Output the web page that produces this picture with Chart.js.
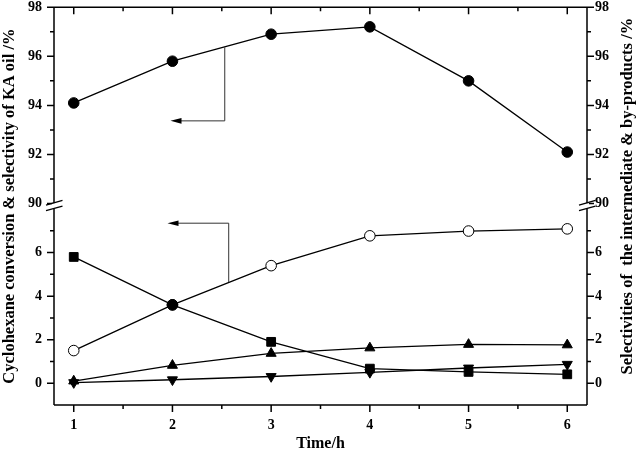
<!DOCTYPE html>
<html>
<head>
<meta charset="utf-8">
<script src="https://cdn.jsdelivr.net/npm/chart.js@4.4.1/dist/chart.umd.min.js"></script>
<style>
  html, body { margin: 0; padding: 0; background: #fff; }
  #wrap { width: 638px; height: 455px; }
</style>
</head>
<body>
<div id="wrap"><canvas id="c" width="638" height="455"></canvas></div>
<script>
// ---- data ----
const times = [1, 2, 3, 4, 5, 6];
const kaOilSelectivity = [94.1, 95.8, 96.9, 97.2, 95.0, 92.1];   // filled circles (upper axis)
const conversion = [1.5, 3.6, 5.4, 6.77, 6.99, 7.09];              // open circles
const seriesSquare = [5.8, 3.6, 1.9, 0.67, 0.52, 0.41];            // filled squares
const seriesUp = [0.1, 0.82, 1.37, 1.62, 1.78, 1.76];              // up triangles
const seriesDown = [0.03, 0.16, 0.31, 0.5, 0.7, 0.87];             // down triangles

const xTicks = [1, 2, 3, 4, 5, 6];
const xMinorTicks = [1.5, 2.5, 3.5, 4.5, 5.5];
const upperTicks = [90, 92, 94, 96, 98];
const upperMinorTicks = [91, 93, 95, 97];
const lowerTicks = [0, 2, 4, 6];
const lowerMinorTicks = [1, 3, 5, 7];

const xTitle = 'Time/h';
const leftTitle = 'Cyclohexane conversion & selectivity of KA oil /%';
const rightTitle = 'Selectivities of  the intermediate & by-products /%';

// annotation arrows, in data units
const arrowUpper = { axis: 'yUpper', x: 2.53, yFrom: 96.37, yTo: 93.37, xTip: 1.98 };
const arrowLower = { axis: 'yLower', x: 2.57, yFrom: 4.65, yTo: 7.35, xTip: 1.95 };

// ---- chart ----
const FONT = "'Liberation Serif', 'Times New Roman', serif";
Chart.defaults.font.family = FONT;
Chart.defaults.color = '#000';

const pts = arr => times.map((t, i) => ({ x: t, y: arr[i] }));

const baseDs = {
  borderColor: '#000',
  borderWidth: 1.3,
  pointBorderColor: '#000',
  pointBorderWidth: 1,
  fill: false,
  tension: 0
};

const fixTicks = arr => (s) => { s.ticks = arr.map(v => ({ value: v })); };

const hiddenGrid = { display: false, drawTicks: false };
const tickFont = { size: 14, weight: 'bold' };

function yAxis(pos, stack, weight, stackWeight, min, max, ticksArr, padding, width) {
  return {
    type: 'linear', position: pos, stack: stack, weight: weight, stackWeight: stackWeight,
    min: min, max: max,
    afterBuildTicks: fixTicks(ticksArr),
    ticks: { padding: padding, font: tickFont, color: '#000' },
    grid: hiddenGrid, border: { display: false },
    afterFit: s => { s.width = width; s.paddingTop = 0; s.paddingBottom = 0; }
  };
}

const overlay = {
  id: 'overlay',
  afterDatasetsDraw(chart) {
    const { ctx, chartArea: a, scales } = chart;
    const x = scales.x, yU = scales.yUpper, yL = scales.yLower;
    const seg = (x1, y1, x2, y2) => { ctx.moveTo(x1, y1); ctx.lineTo(x2, y2); };
    ctx.save();
    ctx.strokeStyle = '#000';
    ctx.lineWidth = 1.5;
    ctx.beginPath();
    seg(a.left, a.top, a.right, a.top);
    seg(a.left, a.bottom, a.right, a.bottom);
    seg(a.left, a.top, a.left, a.bottom);
    seg(a.right, a.top, a.right, a.bottom);
    xTicks.forEach(v => { const p = x.getPixelForValue(v); seg(p, a.bottom, p, a.bottom + 7); seg(p, a.top, p, a.top + 7); });
    xMinorTicks.forEach(v => { const p = x.getPixelForValue(v); seg(p, a.bottom, p, a.bottom + 4); seg(p, a.top, p, a.top + 4); });
    [[yU, upperTicks, upperMinorTicks], [yL, lowerTicks, lowerMinorTicks]].forEach(([s, maj, mnr]) => {
      maj.forEach(v => { const p = s.getPixelForValue(v); seg(a.left - 7, p, a.left, p); seg(a.right, p, a.right + 7, p); });
      mnr.forEach(v => { const p = s.getPixelForValue(v); seg(a.left - 4, p, a.left, p); seg(a.right, p, a.right + 4, p); });
    });
    ctx.stroke();

    // axis breaks
    const yb = yU.bottom;
    [a.left, a.right].forEach(ax => {
      ctx.fillStyle = '#fff';
      ctx.fillRect(ax - 2, yb - 0.5, 4, 5.5);
      ctx.beginPath();
      seg(ax - 8, yb + 1.5, ax + 8.5, yb - 3.3);
      seg(ax - 8, yb + 7, ax + 8.5, yb + 2.4);
      ctx.lineWidth = 1.3;
      ctx.stroke();
    });

    // arrows
    [arrowUpper, arrowLower].forEach(ar => {
      const s = scales[ar.axis];
      const px = x.getPixelForValue(ar.x);
      const p0 = s.getPixelForValue(ar.yFrom);
      const p1 = s.getPixelForValue(ar.yTo);
      const pt = x.getPixelForValue(ar.xTip);
      ctx.strokeStyle = '#333';
      ctx.lineWidth = 1;
      ctx.beginPath();
      ctx.moveTo(px, p0); ctx.lineTo(px, p1); ctx.lineTo(pt + 8, p1);
      ctx.stroke();
      ctx.fillStyle = '#000';
      ctx.beginPath();
      ctx.moveTo(pt, p1); ctx.lineTo(pt + 11, p1 - 2.8); ctx.lineTo(pt + 11, p1 + 2.8); ctx.closePath();
      ctx.fill();
    });

    // right title (reads bottom to top)
    ctx.fillStyle = '#000';
    ctx.font = 'bold 16.5px ' + FONT;
    ctx.textAlign = 'center';
    ctx.textBaseline = 'middle';
    ctx.translate(628, (a.top + a.bottom) / 2 - 10);
    ctx.rotate(-Math.PI / 2);
    ctx.fillText(rightTitle, 0, 0);
    ctx.restore();
  }
};

// datasets listed top-most first (Chart.js draws index 0 last)
new Chart(document.getElementById('c'), {
  type: 'line',
  data: {
    datasets: [
      Object.assign({}, baseDs, { label: 'KA oil', data: pts(kaOilSelectivity), yAxisID: 'yUpper', pointStyle: 'circle', pointRadius: 5.3, pointBackgroundColor: '#000' }),
      Object.assign({}, baseDs, { label: 'square', data: pts(seriesSquare), yAxisID: 'yLower', pointStyle: ['rect', 'circle', 'rect', 'rect', 'rect', 'rect'], pointRadius: [6.2, 5.3, 6.2, 6.2, 6.2, 6.2], pointBackgroundColor: '#000' }),
      Object.assign({}, baseDs, { label: 'conversion', data: pts(conversion), yAxisID: 'yLower', pointStyle: 'circle', pointRadius: 5.3, pointBackgroundColor: '#fff' }),
      Object.assign({}, baseDs, { label: 'up', data: pts(seriesUp), yAxisID: 'yLower', pointStyle: 'triangle', pointRadius: 5.8, pointBackgroundColor: '#000' }),
      Object.assign({}, baseDs, { label: 'down', data: pts(seriesDown), yAxisID: 'yLower', pointStyle: 'triangle', pointRotation: 180, pointRadius: 5.8, pointBackgroundColor: '#000' })
    ]
  },
  options: {
    responsive: false,
    animation: false,
    layout: { padding: { top: 6, left: 0, right: 0, bottom: 0 } },
    plugins: { legend: { display: false }, tooltip: { enabled: false } },
    scales: {
      x: {
        type: 'linear', position: 'bottom', min: 0.8, max: 6.2,
        afterBuildTicks: fixTicks(xTicks),
        ticks: { padding: 12, font: tickFont, color: '#000', autoSkip: false, maxRotation: 0 },
        grid: hiddenGrid, border: { display: false },
        title: { display: true, text: xTitle, color: '#000', font: { size: 16, weight: 'bold' }, padding: { top: 0, bottom: 2 } },
        afterFit: s => { s.height = 50; s.paddingLeft = 0; s.paddingRight = 0; }
      },
      yTitleL: {
        type: 'linear', position: 'left', weight: 10, min: 0, max: 1,
        ticks: { display: false }, grid: hiddenGrid, border: { display: false },
        title: { display: true, text: leftTitle, color: '#000', font: { size: 16.5, weight: 'bold' }, padding: { top: 0, bottom: 0 } },
        afterFit: s => { s.width = 20; s.paddingTop = 0; s.paddingBottom = 0; }
      },
      yUpper: yAxis('left', 'L', 2, 197, 90, 98, upperTicks, 12, 34),
      yLower: yAxis('left', 'L', 1, 202, -1, 8.25, lowerTicks, 12, 34),
      yUpperR: yAxis('right', 'R', 1, 197, 90, 98, upperTicks, 8, 51),
      yLowerR: yAxis('right', 'R', 2, 202, -1, 8.25, lowerTicks, 8, 51)
    }
  },
  plugins: [overlay]
});
</script>
</body>
</html>
